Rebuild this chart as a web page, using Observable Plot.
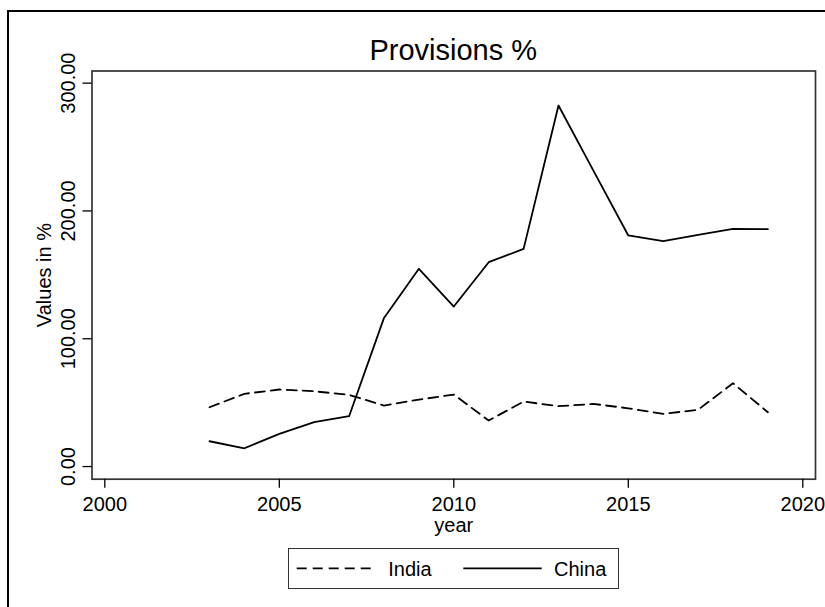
<!DOCTYPE html>
<html><head><meta charset="utf-8">
<script src="https://cdn.jsdelivr.net/npm/d3@7"></script>
<script src="https://cdn.jsdelivr.net/npm/@observablehq/plot@0.6"></script>
<style>
html,body{margin:0;padding:0;background:#fff;width:825px;height:607px;overflow:hidden;font-family:"Liberation Sans",Arial,sans-serif;color:#000;}
#frame{position:absolute;left:7px;top:10px;width:840px;height:620px;border:2px solid #000;}
#title{position:absolute;left:91.5px;width:723.5px;top:36px;text-align:center;font-size:29px;line-height:29px;}
#chart{position:absolute;left:0;top:60px;}
#legend{position:absolute;left:288px;top:548px;width:331px;height:41px;box-sizing:border-box;border:1.5px solid #333;}
#legend svg{position:absolute;left:-1.5px;top:-1.5px;}
</style></head><body>
<div id="frame"></div>
<div id="title">Provisions %</div>
<div id="chart"></div>
<div id="legend"></div>
<script>
const years = [2003,2004,2005,2006,2007,2008,2009,2010,2011,2012,2013,2014,2015,2016,2017,2018,2019];
const india = [46.4,56.9,60.3,58.9,56.1,47.7,52.4,56.3,36.0,50.9,47.2,49.0,45.6,41.2,44.4,65.2,42.5];
const china = [19.8,14.3,25.6,34.7,39.4,116.3,154.7,125.2,159.9,170.3,282.5,231.6,180.8,176.3,181.2,186.0,185.7];
const seriesNames = ["India","China"];
const xTicks = [2000,2005,2010,2015,2020];
const yTicks = [0,100,200,300];

const data = years.flatMap((yr,i)=>[
  {year:yr, value:india[i], country:seriesNames[0]},
  {year:yr, value:china[i], country:seriesNames[1]}
]);
const dash = "10,6";

const chart = Plot.plot({
  width:825, height:480,
  marginTop:10.5, marginBottom:61.3, marginLeft:91.5, marginRight:10,
  style:{fontFamily:"Liberation Sans, Arial, sans-serif", fontSize:"20px", color:"#000", background:"transparent", overflow:"visible"},
  x:{domain:[1999.633,2020.364]},
  y:{domain:[-9.9,309.5]},
  marks:[
    Plot.frame({stroke:"#333", strokeWidth:1.7}),
    Plot.axisX({ticks:xTicks, tickFormat:"d", tickSize:9, tickPadding:9, strokeWidth:1.3,
      label:"year", labelAnchor:"center", labelArrow:false, labelOffset:53}),
    Plot.axisY({ticks:yTicks, tickFormat:".2f", tickSize:9, tickPadding:7.7, tickRotate:-90, strokeWidth:1.3,
      label:"Values in %", labelAnchor:"center", labelArrow:false, labelOffset:55}),
    Plot.line(data, {filter:d=>d.country===seriesNames[0], x:"year", y:"value", stroke:"#000", strokeWidth:1.8, strokeDasharray:dash}),
    Plot.line(data, {filter:d=>d.country===seriesNames[1], x:"year", y:"value", stroke:"#000", strokeWidth:1.8})
  ]
});
document.getElementById("chart").appendChild(chart);

// legend
const ns = "http://www.w3.org/2000/svg";
const lg = document.createElementNS(ns,"svg");
lg.setAttribute("width","331"); lg.setAttribute("height","41");
lg.style.fontFamily = "Liberation Sans, Arial, sans-serif";
const items = [
  {name:seriesNames[0], x1:8.7, x2:88.7, tx:100.3, dash:dash},
  {name:seriesNames[1], x1:175.3, x2:253.7, tx:266, dash:null}
];
for (const it of items) {
  const l = document.createElementNS(ns,"line");
  l.setAttribute("x1",it.x1); l.setAttribute("x2",it.x2);
  l.setAttribute("y1",20.3); l.setAttribute("y2",20.3);
  l.setAttribute("stroke","#000"); l.setAttribute("stroke-width","1.8");
  if (it.dash) l.setAttribute("stroke-dasharray", it.dash);
  lg.appendChild(l);
  const t = document.createElementNS(ns,"text");
  t.setAttribute("x",it.tx); t.setAttribute("y",27.5);
  t.setAttribute("font-size","20"); t.textContent = it.name;
  lg.appendChild(t);
}
document.getElementById("legend").appendChild(lg);
</script>
</body></html>
